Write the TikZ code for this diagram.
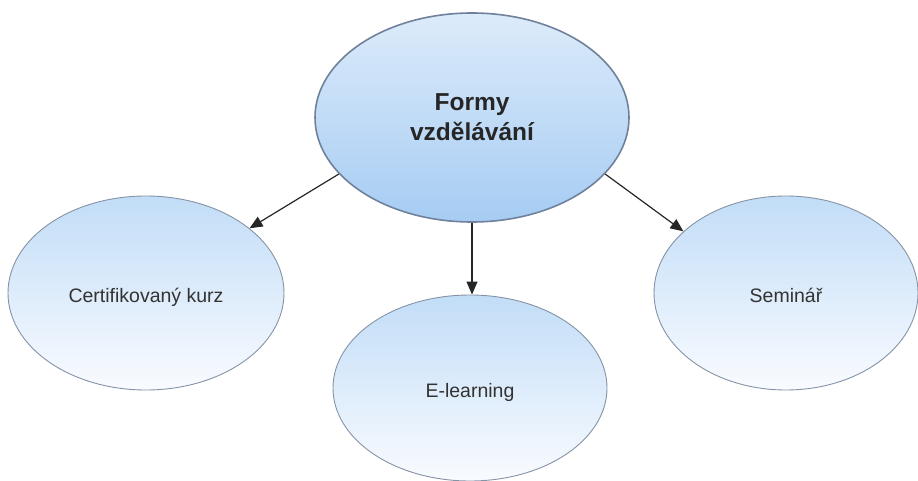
\documentclass[tikz,border=0pt]{standalone}
\usepackage{fontspec}
\setmainfont{Liberation Sans}
\usetikzlibrary{shapes.geometric,arrows.meta}
\definecolor{topA}{HTML}{DCEBFA}
\definecolor{topB}{HTML}{A6CCF3}
\definecolor{subA}{HTML}{C2DDF7}
\definecolor{subB}{HTML}{F9FBFF}
\definecolor{edgeC}{HTML}{8593A6}
\definecolor{edgeT}{HTML}{6F819B}
\definecolor{txt}{HTML}{333333}
\tikzset{
  mainell/.style={ellipse, draw=edgeT, line width=1.6pt, top color=topA, bottom color=topB,
    minimum width=314pt, minimum height=209pt, inner sep=0pt, align=center,
    font=\fontsize{24.5}{30}\selectfont\bfseries, text=black!85},
  subell/.style={ellipse, draw=edgeC, line width=0.9pt, top color=subA, bottom color=subB,
    inner sep=0pt, text height=19pt, text depth=0pt,
    font=\fontsize{19.5}{24}\selectfont, text=txt},
  arr/.style={-{Triangle[length=13pt,width=11pt]}, line width=1.2pt, draw=black!85}
}
\begin{document}
\begin{tikzpicture}[x=1pt,y=-1pt]
\useasboundingbox (0,0) rectangle (918,481);
\node[mainell] (top) at (472,117.5) {Formy\\vzdělávání};
\node[subell, minimum width=276pt, minimum height=194pt] (left) at (146,293) {Certifikovaný kurz};
\node[subell, minimum width=274pt, minimum height=186pt] (mid) at (470,388) {E-learning};
\node[subell, minimum width=264pt, minimum height=194pt] (right) at (786,293) {Seminář};
\draw[arr] (top.203) -- (left.32);
\draw[arr] (top.south) -- (top.south |- mid.north);
\draw[arr] (top.337) -- (right.149);
\end{tikzpicture}
\end{document}
